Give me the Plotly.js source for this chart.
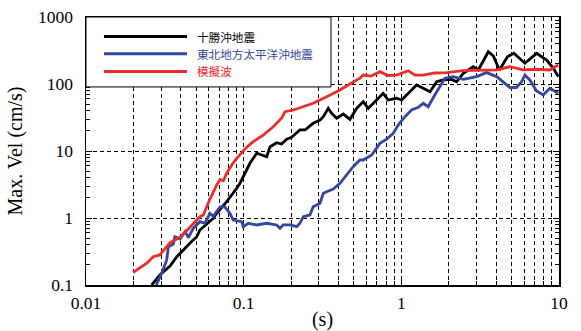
<!DOCTYPE html>
<html>
<head>
<meta charset="utf-8">
<script src="https://cdn.plot.ly/plotly-3.0.1.min.js"></script>
<style>html,body{margin:0;padding:0;background:#fff;}#chart{width:581px;height:331px;}</style>
</head>
<body>
<div id="chart"></div>
<script>
// 十勝沖地震
const tokachiT = [0.0261,0.0294,0.0341,0.0377,0.0456,0.0504,0.0528,0.0596,0.0641,0.0675,0.078,0.0904,0.0947,0.1096,0.121,0.130,0.140,0.147,0.162,0.174,0.1875,0.201,0.2275,0.245,0.276,0.305,0.32,0.344,0.361,0.389,0.429,0.472,0.521,0.573,0.617,0.697,0.767,0.826,0.933,1.005,1.134,1.25,1.377,1.52,1.675,1.845,2.085,2.24,2.47,2.86,3.08,3.56,3.83,4.19,4.71,5.17,6.08,7.21,8.34,9.19,9.89];
const tokachiV = [0.1,0.141,0.192,0.264,0.419,0.526,0.662,0.834,0.99,1.175,1.76,2.78,3.3,6.55,9.24,8.71,8.22,11.6,13.3,12.7,15,16,20.6,20.6,25.9,29,32.5,43.4,36.5,30.8,35.6,29.7,43.4,54.4,43.4,57.7,72.6,57.7,61.2,57.7,76.8,96.6,86.3,76.8,108,115,117,108,144,181,162,303,262,162,255,287,204,287,228,173,129];
// 東北地方太平洋沖地震
const tohokuT = [0.0279,0.0302,0.0325,0.0333,0.0358,0.0366,0.0395,0.0425,0.0446,0.0479,0.0528,0.0568,0.0611,0.0641,0.0708,0.076,0.0818,0.0859,0.097,0.0993,0.107,0.121,0.14,0.162,0.17,0.178,0.197,0.217,0.2275,0.239,0.263,0.276,0.305,0.32,0.336,0.37,0.408,0.46,0.495,0.546,0.573,0.649,0.731,0.807,0.889,0.955,1.054,1.162,1.28,1.377,1.48,1.63,1.76,1.89,2.13,2.47,3.0,3.47,4.02,4.54,4.88,5.38,5.79,6.08,6.53,7.21,7.94,8.75,9.89];
const tohokuV = [0.1,0.15,0.236,0.373,0.409,0.526,0.486,0.625,0.512,0.702,0.881,0.834,1.175,1.06,1.47,1.47,1.175,0.933,0.881,0.741,0.834,0.787,0.834,0.787,0.702,0.787,0.787,0.741,0.834,1.045,1.11,1.47,1.66,2.34,2.47,2.71,3.3,4.65,5.83,7.34,7.34,8.71,13,15,18.4,24.4,32.5,40.9,44.9,51.5,45.8,68.5,91.1,122,129,117,129,148,129,100,88.7,88.7,108,136,115,78.6,68.5,86.3,72.6];
// 模擬波
const simT = [0.0199,0.0243,0.0267,0.0294,0.0341,0.0395,0.0435,0.0491,0.0528,0.0555,0.0611,0.0675,0.0708,0.0743,0.078,0.084,0.0904,0.1045,0.115,0.133,0.154,0.174,0.183,0.207,0.239,0.276,0.336,0.408,0.46,0.495,0.546,0.573,0.641,0.731,0.822,0.933,1.106,1.22,1.377,1.63,1.94,2.47,3.15,4.02,4.88,5.93,7.21,8.75,9.89];
const simV = [0.154,0.211,0.264,0.281,0.431,0.515,0.644,0.881,1.045,1.11,1.92,3.11,3.76,3.6,4.65,6.18,7.78,11.4,13.8,17.3,23,30.8,38.6,40.9,45.8,51.5,64.6,81.3,96.6,108,122,136,131,153,134,136,158,136,136,146,148,158,162,162,181,162,166,162,192];

const names = ['十勝沖地震','東北地方太平洋沖地震','模擬波'];
const colors = ['#000000','#3346a0','#ee2b2b'];
const xTickVals = [0.01,0.1,1,10];
const xTickText = ['0.01','0.1','1','10'];
const yTickVals = [0.1,1,10,100,1000];
const yTickText = ['0.1','1','10','100','1000'];

const series = [[tokachiT,tokachiV],[tohokuT,tohokuV],[simT,simV]];
const traces = series.map((s,i)=>({
  x:s[0], y:s[1], type:'scatter', mode:'lines', name:names[i],
  line:{color:colors[i], width:2.8}, showlegend:false
}));

const serif = 'Liberation Serif, Times New Roman, serif';
const shapes = [{type:'rect', xref:'paper', yref:'paper', x0:0, x1:0.518, y0:0.739, y1:1,
  fillcolor:'#ffffff', line:{color:'#000', width:1}, layer:'above'}];
const annotations = [];
const rowsY = [0.927,0.863,0.797];
names.forEach((n,i)=>{
  shapes.push({type:'line', xref:'paper', yref:'paper', x0:0.038, x1:0.2135, y0:rowsY[i], y1:rowsY[i],
    line:{color:colors[i], width:3}, layer:'above'});
  annotations.push({xref:'paper', yref:'paper', x:0.2326, y:rowsY[i], xanchor:'left', yanchor:'middle',
    text:n, showarrow:false, borderpad:0,
    font:{family:'Noto Sans CJK JP', size:11.6, color:colors[i]}});
});

const layout = {
  width:581, height:331,
  margin:{l:86, r:22, t:17, b:46},
  paper_bgcolor:'#fff', plot_bgcolor:'#fff',
  showlegend:false,
  xaxis:{type:'log', range:[-2,1], tickvals:xTickVals, ticktext:xTickText,
    ticks:'inside', ticklen:6, tickcolor:'#000', showline:true, linecolor:'#000', linewidth:1.5, mirror:'ticks',
    showgrid:true, gridcolor:'#000', gridwidth:1, griddash:'4px,3px', zeroline:false,
    tickfont:{family:serif, size:17.5, color:'#000'}, ticklabelstandoff:1,
    minor:{dtick:'D1', ticks:'inside', ticklen:4, tickcolor:'#000', showgrid:true, gridcolor:'#000', gridwidth:1, griddash:'4px,3px'},
    title:{text:'(s)', font:{family:serif, size:20, color:'#000'}, standoff:4}},
  yaxis:{type:'log', range:[-1,3], tickvals:yTickVals, ticktext:yTickText,
    ticks:'inside', ticklen:6, tickcolor:'#000', showline:true, linecolor:'#000', linewidth:1.5, mirror:'ticks',
    showgrid:true, gridcolor:'#000', gridwidth:1, griddash:'4px,3px', zeroline:false,
    tickfont:{family:serif, size:17.5, color:'#000'}, ticklabelstandoff:8,
    minor:{dtick:'D1', ticks:'inside', ticklen:4, tickcolor:'#000', showgrid:false},
    title:{text:'Max. Vel (cm/s)', font:{family:serif, size:20, color:'#000'}, standoff:10}},
  shapes:shapes, annotations:annotations
};
Plotly.newPlot('chart', traces, layout, {staticPlot:true, displayModeBar:false});
</script>
</body>
</html>
